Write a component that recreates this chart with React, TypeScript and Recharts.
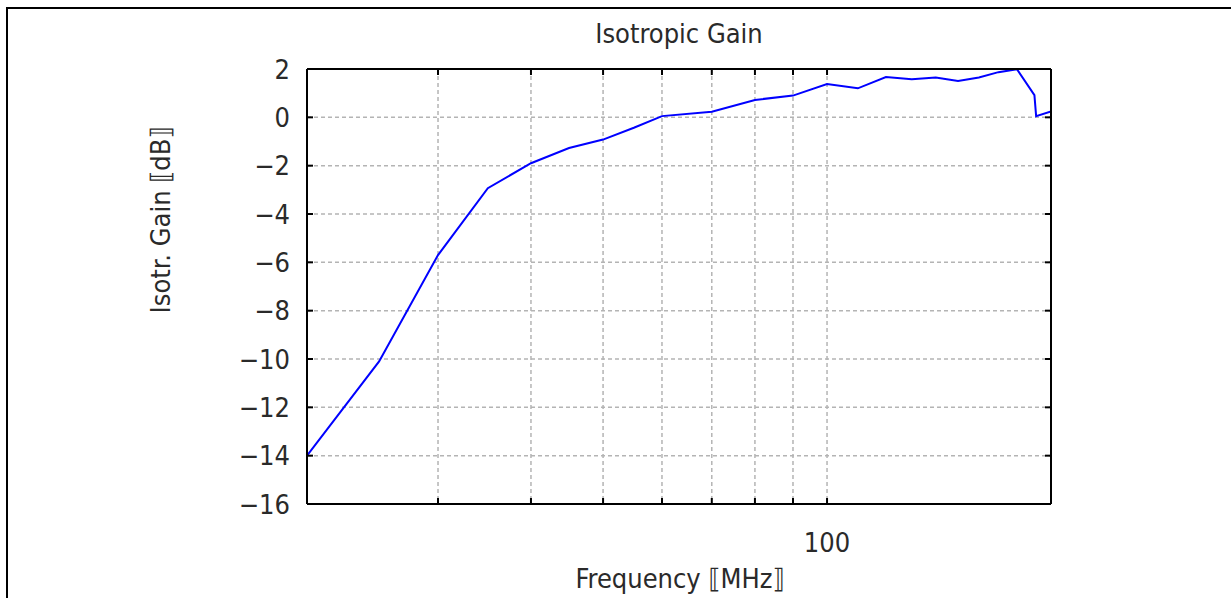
import React from 'react';
import { LineChart, Line, XAxis, YAxis, CartesianGrid } from 'recharts';

// frequency in MHz, isotropic gain in dB
const freqs = [20, 25, 30, 35, 40, 45, 50, 55, 60, 70, 80, 90, 100, 110, 120, 130, 140, 150, 160, 170, 180, 190, 191, 200];
const gains = [-14.0, -10.1, -5.7, -2.93, -1.9, -1.27, -0.92, -0.43, 0.05, 0.23, 0.72, 0.9, 1.38, 1.2, 1.67, 1.58, 1.65, 1.5, 1.65, 1.87, 1.99, 0.92, 0.05, 0.24];

const xTicks = [20, 30, 40, 50, 60, 70, 80, 90, 100, 200];
const xLabels = [100];
const yTicks = [-16, -14, -12, -10, -8, -6, -4, -2, 0, 2];

const data = freqs.map((f, i) => ({ freq: f, gain: gains[i] }));

const FONT = '"DejaVu Sans Condensed", "DejaVu Sans", sans-serif';
const TEXT = '#2a2a2a';
const TICK = 6;

const isInner = (v: number) => v !== 20 && v !== 200;

function BottomTick({ x, y, payload }: any) {
  const v = payload?.value;
  return (
    <g>
      {isInner(v) && <line x1={x} y1={y} x2={x} y2={y - TICK} stroke="#000" strokeWidth={2} />}
      {xLabels.includes(v) && (
        <text x={x} y={y + 38} textAnchor="middle" dominantBaseline="central" fontFamily={FONT} fontSize={27} fill={TEXT}>
          {v}
        </text>
      )}
    </g>
  );
}

function TopTick({ x, y, payload }: any) {
  const v = payload?.value;
  if (!isInner(v)) return null;
  return <line x1={x} y1={y} x2={x} y2={y + TICK} stroke="#000" strokeWidth={2} />;
}

function LeftTick({ x, y, payload }: any) {
  const v = payload?.value as number;
  const txt = v < 0 ? `\u2212${Math.abs(v)}` : String(v);
  return (
    <g>
      {v !== -16 && v !== 2 && <line x1={x} y1={y} x2={x + TICK} y2={y} stroke="#000" strokeWidth={2} />}
      <text x={x - 17} y={y} textAnchor="end" dominantBaseline="central" fontFamily={FONT} fontSize={27} fill={TEXT}>
        {txt}
      </text>
    </g>
  );
}

function RightTick({ x, y, payload }: any) {
  const v = payload?.value as number;
  if (v === -16 || v === 2) return null;
  return <line x1={x} y1={y} x2={x - TICK} y2={y} stroke="#000" strokeWidth={2} />;
}

export default function App() {
  const textStyle: React.CSSProperties = {
    position: 'absolute',
    fontFamily: FONT,
    fontSize: 27,
    color: TEXT,
    whiteSpace: 'nowrap',
    lineHeight: 1,
  };
  return (
    <div style={{ position: 'absolute', left: 0, top: 0, width: 1231, height: 598, background: '#fff', overflow: 'hidden' }}>
      <div
        style={{
          position: 'absolute',
          left: 6,
          top: 7,
          width: 1400,
          height: 800,
          borderTop: '2px solid #000',
          borderLeft: '2px solid #000',
        }}
      />
      <LineChart
        width={1231}
        height={598}
        data={data}
        margin={{ top: 68, right: 179, bottom: 34, left: 247 }}
        style={{ position: 'absolute', left: 0, top: 0 }}
      >
        <CartesianGrid stroke="#b4b4b4" strokeDasharray="4 3" strokeWidth={1.5} />
        <XAxis
          dataKey="freq"
          type="number"
          scale="log"
          domain={[20, 200]}
          ticks={xTicks}
          allowDataOverflow
          height={60}
          tickSize={0}
          tickMargin={0}
          axisLine={{ stroke: '#000', strokeWidth: 2 }}
          tickLine={false}
          tick={<BottomTick />}
          interval={0}
        />
        <XAxis
          xAxisId="top"
          orientation="top"
          dataKey="freq"
          type="number"
          scale="log"
          domain={[20, 200]}
          ticks={xTicks}
          allowDataOverflow
          height={1}
          tickSize={0}
          tickMargin={0}
          axisLine={{ stroke: '#000', strokeWidth: 2 }}
          tickLine={false}
          tick={<TopTick />}
          interval={0}
        />
        <YAxis
          type="number"
          domain={[-16, 2]}
          ticks={yTicks}
          allowDataOverflow
          width={60}
          tickSize={0}
          tickMargin={0}
          axisLine={{ stroke: '#000', strokeWidth: 2 }}
          tickLine={false}
          tick={<LeftTick />}
          interval={0}
        />
        <YAxis
          yAxisId="right"
          orientation="right"
          type="number"
          domain={[-16, 2]}
          ticks={yTicks}
          allowDataOverflow
          width={1}
          tickSize={0}
          tickMargin={0}
          axisLine={{ stroke: '#000', strokeWidth: 2 }}
          tickLine={false}
          tick={<RightTick />}
          interval={0}
        />
        <Line
          xAxisId="top"
          yAxisId="right"
          dataKey="gain"
          stroke="none"
          dot={false}
          activeDot={false}
          isAnimationActive={false}
        />
        <Line
          dataKey="gain"
          type="linear"
          stroke="#0000ff"
          strokeWidth={2}
          dot={false}
          activeDot={false}
          isAnimationActive={false}
        />
      </LineChart>
      <div style={{ ...textStyle, left: 679, top: 33, transform: 'translate(-50%, -50%)' }}>Isotropic Gain</div>
      <div style={{ ...textStyle, left: 680, top: 578, transform: 'translate(-50%, -50%)' }}>Frequency ⟦MHz⟧</div>
      <div style={{ ...textStyle, left: 160, top: 220, transform: 'translate(-50%, -50%) rotate(-90deg)' }}>
        Isotr. Gain ⟦dB⟧
      </div>
    </div>
  );
}
